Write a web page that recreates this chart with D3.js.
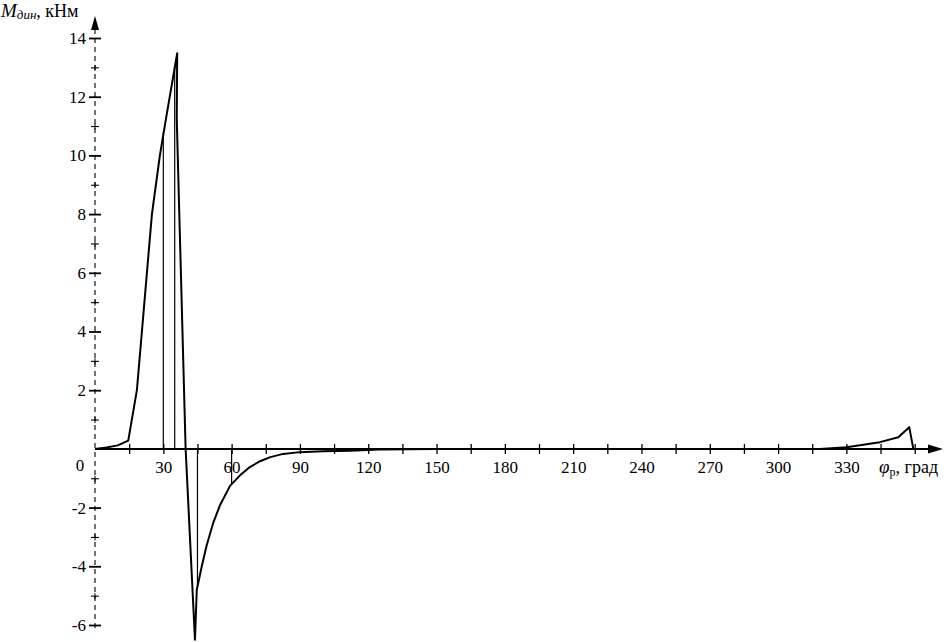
<!DOCTYPE html>
<html>
<head>
<meta charset="utf-8">
<script src="https://cdn.jsdelivr.net/npm/d3@7"></script>
<style>
  html, body { margin: 0; padding: 0; background: #fff; }
  svg { display: block; }
  svg text { font-family: "Times New Roman", "Liberation Serif", Times, "DejaVu Serif", serif !important; fill: #000; }
</style>
</head>
<body>
<svg id="chart" width="944" height="642"></svg>
<script>
// ---- data ----
const curveDeg = [0, 5, 10, 14.6, 18.4, 20.6, 22.8, 25.0, 28.5, 31.2, 36.1, 35.9, 39.8, 43.9, 44.7, 46.9, 49, 52.0, 55, 59.3, 63.7, 68, 72.5, 77, 82.6, 90, 100, 112, 125, 150, 200, 250, 300, 318.4, 330.1, 344.7, 352.8, 357.6, 359.4];
const curveVal = [0, 0.05, 0.12, 0.28, 2.0, 4.0, 6.0, 8.0, 10.0, 11.26, 13.48, 11.26, 0, -6.5, -4.8, -4.0, -3.3, -2.5, -1.9, -1.26, -0.9, -0.62, -0.42, -0.28, -0.17, -0.11, -0.08, -0.06, -0.02, 0, 0, 0, 0, 0, 0.06, 0.23, 0.40, 0.74, 0];
const dropDeg = [30, 35, 45, 60];
const dropVal = [10.8, 13.0, -4.7, -1.2];
const xTicks = [15, 30, 45, 60, 75, 90, 105, 120, 135, 150, 165, 180, 195, 210, 225, 240, 255, 270, 285, 300, 315, 330, 345, 360];
const xLabels = [30, 60, 90, 120, 150, 180, 210, 240, 270, 300, 330];
const yTicks = [-6, -5, -4, -3, -2, -1, 1, 2, 3, 4, 5, 6, 7, 8, 9, 10, 11, 12, 13, 14];
const yLabels = [-6, -4, -2, 2, 4, 6, 8, 10, 12, 14];
const yTitle = ["M", "дин", ", кНм"];
const xTitle = ["φ", "р", ", град"];

// ---- scales ----
const x = d3.scaleLinear().domain([0, 360]).range([95, 914.7]);
const y = d3.scaleLinear().domain([-6, 14]).range([625, 38]);

const svg = d3.select("#chart");
const FONT = "'Times New Roman', 'Liberation Serif', serif";

// x axis line with arrow
const y0 = y(0);
svg.append("line").attr("x1", x(0)).attr("x2", 930).attr("y1", y0).attr("y2", y0)
  .attr("stroke", "#000").attr("stroke-width", 2);
svg.append("path").attr("d", `M928,${y0-4.5} L943,${y0} L928,${y0+4.5} Z`).attr("fill", "#000");

// x axis ticks via d3.axis
const xAxis = d3.axisBottom(x).tickValues(xTicks).tickFormat(d => xLabels.includes(d) ? d : "").tickSize(5).tickPadding(8);
const gx = svg.append("g").attr("transform", `translate(0,${y0})`).call(xAxis).attr("font-family", FONT);
gx.select(".domain").remove();
gx.selectAll(".tick line").attr("y1", -5).attr("y2", 5).attr("stroke", "#000").attr("stroke-width", 1.3);
gx.selectAll(".tick text").attr("font-size", 17).attr("dy", "0.78em").attr("y", 11);

// y axis: dashed line with arrow
svg.append("line").attr("x1", x(0)).attr("x2", x(0)).attr("y1", 628).attr("y2", 28)
  .attr("stroke", "#000").attr("stroke-width", 1.1).attr("stroke-dasharray", "5,4");
svg.append("path").attr("d", `M${x(0)-4},30 L${x(0)},16 L${x(0)+4},30 Z`).attr("fill", "#000");

const yAxis = d3.axisLeft(y).tickValues(yTicks).tickFormat(d => yLabels.includes(d) ? String(d) : "").tickSize(6).tickPadding(4);
const gy = svg.append("g").attr("transform", `translate(${x(0)},0)`).call(yAxis).attr("font-family", FONT);
gy.select(".domain").remove();
gy.selectAll(".tick line")
  .attr("x1", d => yLabels.includes(d) ? 6 : 4)
  .attr("x2", d => yLabels.includes(d) ? -6 : -4)
  .attr("stroke", "#000").attr("stroke-width", d => yLabels.includes(d) ? 1.8 : 1.1);
gy.selectAll(".tick").each(function(d) {
  if (!yLabels.includes(d)) {
    d3.select(this).append("line").attr("x1", 0).attr("x2", 0).attr("y1", -3).attr("y2", 3)
      .attr("stroke", "#000").attr("stroke-width", 1);
  }
});
gy.selectAll(".tick text").attr("font-size", 17).attr("x", -9);

// zero label
svg.append("text").attr("x", 80).attr("y", y0 + 22).attr("text-anchor", "middle").attr("font-size", 17).text("0");

// drop lines
dropDeg.forEach((d, i) => {
  svg.append("line").attr("x1", x(d)).attr("x2", x(d)).attr("y1", y0).attr("y2", y(dropVal[i]))
    .attr("stroke", "#000").attr("stroke-width", 1.2);
});

// curve
const pts = curveDeg.map((d, i) => [d, curveVal[i]]);
svg.append("path").datum(pts)
  .attr("d", d3.line().x(d => x(d[0])).y(d => y(d[1])))
  .attr("fill", "none").attr("stroke", "#000").attr("stroke-width", 2).attr("stroke-linejoin", "round");

// titles
const t1 = svg.append("text").attr("x", 1).attr("y", 17).attr("font-size", 19);
t1.append("tspan").attr("font-style", "italic").text(yTitle[0]);
t1.append("tspan").attr("font-style", "italic").attr("font-size", 13).attr("dy", 2).text(yTitle[1]);
t1.append("tspan").attr("font-size", 18).attr("dy", -2).text(yTitle[2]);

const t2 = svg.append("text").attr("x", 879).attr("y", 473).attr("font-size", 19);
t2.append("tspan").attr("font-style", "italic").text(xTitle[0]);
t2.append("tspan").attr("font-size", 12).attr("dy", 3).text(xTitle[1]);
t2.append("tspan").attr("font-size", 18).attr("dy", -3).text(xTitle[2]);
</script>
</body>
</html>
